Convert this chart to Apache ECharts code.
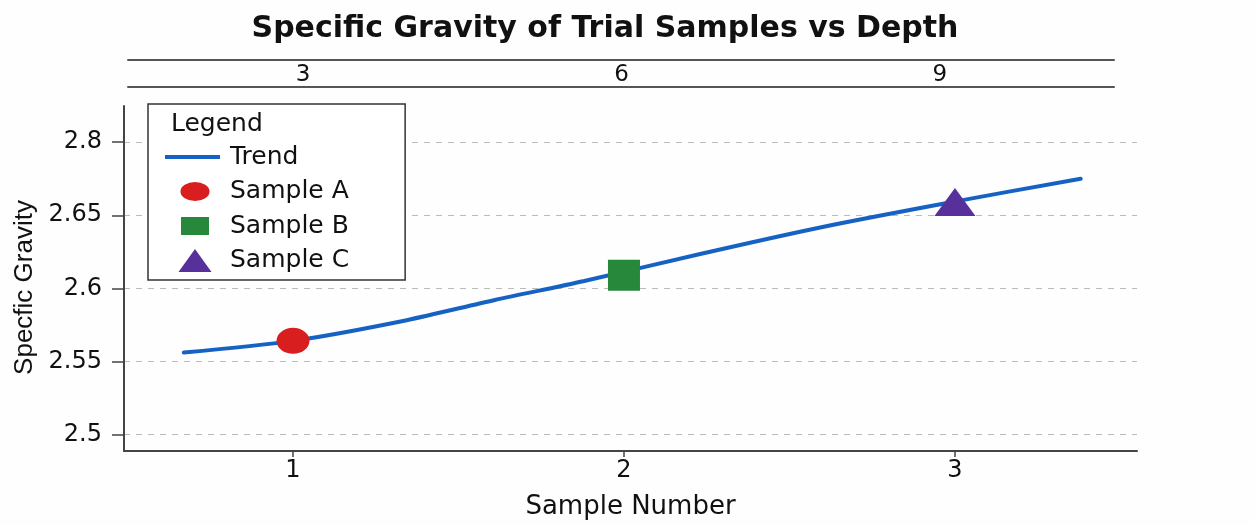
<!DOCTYPE html>
<html>
<head>
<meta charset="utf-8">
<script src="https://cdn.jsdelivr.net/npm/echarts@6/dist/echarts.min.js"></script>
<style>
  html, body { margin: 0; padding: 0; background: #fefefe; }
  #chart { width: 1255px; height: 525px; }
</style>
</head>
<body>
<div id="chart"></div>
<script>
// sample points
const sampleNames = ['Sample A', 'Sample B', 'Sample C']
const sampleX = [1, 2, 3]
const sampleY = [2.564, 2.609, 2.659]

// trend curve
const trendX = [0.67, 1.0, 1.34, 1.61, 1.88, 2.24, 2.6, 2.99, 3.38]
const trendY = [2.556, 2.564, 2.578, 2.592, 2.605, 2.624, 2.642, 2.659, 2.675]

// tick labels
const xTicks = [1, 2, 3]
const yTicks = [2.5, 2.55, 2.6, 2.65, 2.7]
const yTickLabels = ['2.5', '2.55', '2.6', '2.65', '2.8']
const depthTicks = [3, 6, 9]

const FONT = 'DejaVu Sans'
const ellipse = 'path://M0,10A14,10,0,1,1,28,10A14,10,0,1,1,0,10Z'
// legend icons padded to a 60x23 box so each keeps its own size
const legendIcons = {
  'Trend': 'path://M0,0M60,23M0,9.5L55,9.5L55,13.5L0,13.5Z',
  'Sample A': 'path://M0,0M60,23M15.5,11.5A14.5,9.5,0,1,1,44.5,11.5A14.5,9.5,0,1,1,15.5,11.5Z',
  'Sample B': 'path://M0,0M60,23M16,2.5L44,2.5L44,20.5L16,20.5Z',
  'Sample C': 'path://M0,0M60,23M30,0L46.5,23L13.5,23Z'
}
const colors = ['#d81e1e', '#27873a', '#58309b']
const symbols = [ellipse, 'rect', 'triangle']
const symbolSizes = [[33, 26], [32, 31], [41, 28]]

const chart = echarts.init(document.getElementById('chart'))

const option = {
  backgroundColor: '#fefefe',
  animation: false,
  title: [
    {
      text: 'Specific Gravity of Trial Samples vs Depth',
      left: 600,
      textAlign: 'center',
      top: 9,
      textStyle: { fontFamily: FONT, fontWeight: 'bold', fontSize: 30, color: '#111' }
    },
    {
      text: 'Legend',
      left: 171,
      top: 112,
      padding: 0,
      textStyle: { fontFamily: FONT, fontWeight: 'normal', fontSize: 25, color: '#111' },
      z: 10
    }
  ],
  legend: {
    orient: 'vertical',
    left: 148,
    top: 104,
    padding: [40.5, 56, 7, 17],
    itemWidth: 60,
    itemHeight: 23,
    itemGap: 9.5,
    backgroundColor: '#ffffff',
    borderColor: '#333',
    borderWidth: 1.5,
    borderRadius: 0,
    selectedMode: false,
    symbolKeepAspect: false,
    textStyle: { fontFamily: FONT, fontSize: 25, color: '#111' },
    data: ['Trend'].concat(sampleNames).map(n => ({ name: n, icon: legendIcons[n] }))
  },
  grid: [
    { left: 124, right: 118, top: 106, bottom: 74 },
    { left: 128, right: 141, top: 60, height: 27 }
  ],
  xAxis: [
    {
      type: 'value',
      gridIndex: 0,
      min: 0.4894,
      max: 3.55,
      name: 'Sample Number',
      nameLocation: 'middle',
      nameGap: 43,
      nameTextStyle: { fontFamily: FONT, fontSize: 26, color: '#111' },
      axisLine: { show: true, onZero: false, lineStyle: { color: '#444', width: 2 } },
      axisTick: { show: true, length: 6, customValues: xTicks, lineStyle: { color: '#444', width: 1.5 } },
      axisLabel: { customValues: xTicks, margin: 8, fontFamily: FONT, fontSize: 24, color: '#111' },
      splitLine: { show: false }
    },
    {
      type: 'value',
      gridIndex: 1,
      position: 'top',
      min: 1.35,
      max: 10.64,
      axisLine: { show: true, onZero: false, lineStyle: { color: '#555', width: 2 } },
      axisTick: { show: false },
      axisLabel: { show: false },
      splitLine: { show: false }
    },
    {
      type: 'value',
      gridIndex: 1,
      position: 'bottom',
      min: 1.35,
      max: 10.64,
      axisLine: { show: true, onZero: false, lineStyle: { color: '#555', width: 2 } },
      axisTick: { show: false },
      axisLabel: {
        inside: true,
        customValues: depthTicks,
        verticalAlign: 'middle',
        margin: 12,
        fontFamily: FONT, fontSize: 23, color: '#111'
      },
      splitLine: { show: false }
    }
  ],
  yAxis: [
    {
      type: 'value',
      gridIndex: 0,
      min: 2.4886,
      max: 2.7248,
      name: 'Specfic Gravity',
      nameLocation: 'middle',
      nameRotate: 90,
      nameGap: 84,
      nameTextStyle: { fontFamily: 'Liberation Sans', fontSize: 26, color: '#111', padding: [0, 18, 0, 0] },
      axisLine: { show: true, onZero: false, lineStyle: { color: '#444', width: 2 } },
      axisTick: { show: true, length: 12, customValues: yTicks, lineStyle: { color: '#444', width: 1.5 } },
      axisLabel: {
        customValues: yTicks,
        margin: 22,
        fontFamily: FONT, fontSize: 24, color: '#111',
        formatter: v => {
          const i = yTicks.findIndex(t => Math.abs(t - v) < 1e-6)
          return i >= 0 ? yTickLabels[i] : ''
        }
      },
      splitLine: { show: true, lineStyle: { color: '#bbb', width: 1, type: [6, 6] } }
    },
    {
      type: 'value',
      gridIndex: 1,
      show: false,
      min: 0,
      max: 1
    }
  ],
  series: [
    {
      name: 'Trend',
      type: 'line',
      xAxisIndex: 0,
      yAxisIndex: 0,
      smooth: 0.3,
      symbol: 'none',
      data: trendX.map((x, i) => [x, trendY[i]]),
      lineStyle: { color: '#1662c4', width: 4, cap: 'round' },
      itemStyle: { color: '#1662c4' },
      z: 2
    }
  ].concat(sampleNames.map((name, i) => ({
    name: name,
    type: 'scatter',
    xAxisIndex: 0,
    yAxisIndex: 0,
    symbol: symbols[i],
    symbolSize: symbolSizes[i],
    data: [[sampleX[i], sampleY[i]]],
    itemStyle: { color: colors[i], opacity: 1 },
    z: 3
  })))
}

chart.setOption(option)
</script>
</body>
</html>
